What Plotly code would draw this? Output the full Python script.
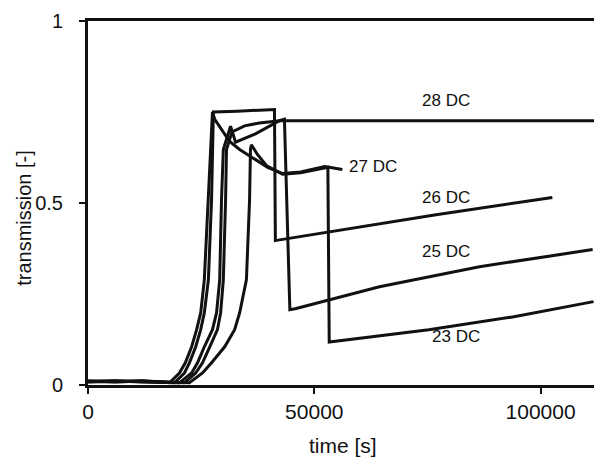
import plotly.graph_objects as go

# transmission curves (time in s, transmission in -)
t_23 = [0, 6000, 12000, 18000, 22400, 25300, 27300, 30200, 32400, 33500, 35000, 35700, 35900, 36100,
        37400, 39400, 43000, 47000, 52300, 53000, 53300, 56000, 75300, 93800, 111700]
tr_23 = [0.010, 0.008, 0.011, 0.009, 0.006, 0.033, 0.061, 0.105, 0.152, 0.198, 0.289, 0.510, 0.647, 0.660,
         0.634, 0.603, 0.579, 0.583, 0.598, 0.598, 0.118, 0.122, 0.152, 0.187, 0.229]

t_25 = [0, 6000, 12000, 20200, 22900, 24200, 25700, 27500, 28400, 29100, 29500, 29900, 31500,
        32600, 37000, 42300, 43400, 44600, 46000, 64400, 86500, 111500]
tr_25 = [0.009, 0.011, 0.008, 0.006, 0.033, 0.061, 0.105, 0.152, 0.198, 0.289, 0.510, 0.647, 0.711,
         0.667, 0.690, 0.726, 0.730, 0.207, 0.210, 0.270, 0.325, 0.372]

t_26 = [0, 6000, 12000, 19100, 21300, 22400, 23800, 24900, 25700, 26600, 27300, 27500, 27700,
        33000, 38000, 41200, 41400, 42000, 76900, 102600]
tr_26 = [0.011, 0.009, 0.010, 0.006, 0.033, 0.061, 0.105, 0.152, 0.198, 0.289, 0.510, 0.647, 0.750,
         0.752, 0.755, 0.757, 0.397, 0.398, 0.468, 0.515]

t_27 = [0, 6000, 12000, 18000, 20200, 21500, 22900, 24000, 24900, 25700, 26600, 27100, 27500,
        28000, 31300, 33500, 36800, 39700, 43000, 47000, 52300, 56200]
tr_27 = [0.008, 0.010, 0.012, 0.006, 0.033, 0.061, 0.105, 0.152, 0.198, 0.289, 0.510, 0.647, 0.750,
         0.730, 0.669, 0.647, 0.620, 0.598, 0.581, 0.585, 0.600, 0.592]

t_28 = [0, 6000, 12000, 21300, 23800, 25300, 26900, 28600, 29300, 29900, 30400, 30600,
        31800, 34600, 37900, 42300, 60000, 85000, 111800]
tr_28 = [0.010, 0.012, 0.009, 0.006, 0.033, 0.061, 0.105, 0.152, 0.198, 0.289, 0.510, 0.647,
         0.695, 0.712, 0.720, 0.726, 0.726, 0.725, 0.726]

series = [(t_23, tr_23), (t_25, tr_25), (t_26, tr_26), (t_27, tr_27), (t_28, tr_28)]

# curve labels: text, time, transmission, anchor
labels = [
    ("28 DC", 79000, 0.782, "center"),
    ("27 DC", 57300, 0.600, "left"),
    ("26 DC", 79000, 0.515, "center"),
    ("25 DC", 79000, 0.366, "center"),
    ("23 DC", 81300, 0.134, "center"),
]

ink = "#111111"
font = "Liberation Sans, Arial, sans-serif"

fig = go.Figure()
for t, tr in series:
    fig.add_trace(go.Scatter(x=t, y=tr, mode="lines",
                             line=dict(color=ink, width=3), showlegend=False,
                             hoverinfo="skip"))

for text, x, y, anchor in labels:
    fig.add_annotation(x=x, y=y, text=text, showarrow=False, xanchor=anchor,
                       yanchor="middle", font=dict(family=font, size=17, color=ink))

# axis titles
fig.add_annotation(xref="paper", yref="paper", x=0.504, y=-0.165, text="time [s]",
                   showarrow=False, xanchor="center", yanchor="middle",
                   font=dict(family=font, size=21, color=ink))
fig.add_annotation(xref="paper", yref="paper", x=-0.128, y=0.46, text="transmission [-]",
                   showarrow=False, textangle=-90, xanchor="center", yanchor="middle",
                   font=dict(family=font, size=20, color=ink))

fig.update_layout(
    width=594, height=460,
    margin=dict(l=88, r=0, t=21, b=75),
    paper_bgcolor="white", plot_bgcolor="white",
    font=dict(family=font, color=ink),
)
fig.update_xaxes(range=[0, 111800], tickvals=[0, 50000, 100000],
                 ticktext=["0", "50000", "100000"],
                 showgrid=False, zeroline=False, showline=True, linecolor=ink,
                 linewidth=3, mirror=True, ticks="outside", ticklen=6, tickwidth=1.5,
                 tickcolor=ink, tickfont=dict(family=font, size=21, color=ink))
fig.update_yaxes(range=[0, 1], tickvals=[0, 0.5, 1], ticktext=["0", "0.5", "1"],
                 showgrid=False, zeroline=False, showline=True, linecolor=ink,
                 linewidth=3, mirror=False, ticks="outside", ticklen=6, tickwidth=1.5,
                 tickcolor=ink, ticklabelstandoff=12,
                 tickfont=dict(family=font, size=20, color=ink))

fig.write_html("out.html")
